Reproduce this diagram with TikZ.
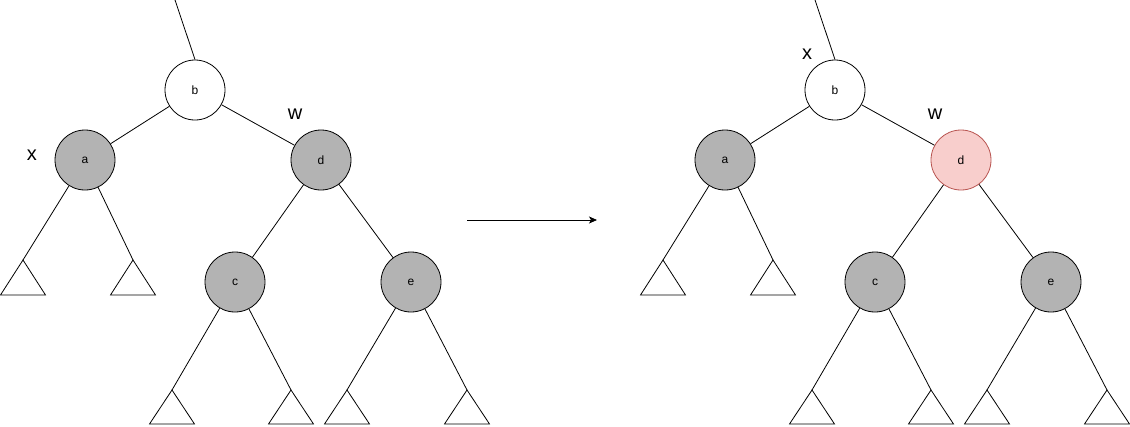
\documentclass[tikz,border=0pt]{standalone}
\usepackage{fontspec}
\setmainfont{Liberation Sans}
\usetikzlibrary{arrows.meta}
\definecolor{nodegray}{RGB}{179,179,179}
\definecolor{pinkfill}{HTML}{F8CECC}
\definecolor{pinkline}{HTML}{B85450}
\begin{document}
\begin{tikzpicture}[x=1pt,y=-1pt,
  vert/.style={circle,draw,line width=0.8pt,minimum size=60pt,inner sep=0pt,font=\fontsize{12}{14}\selectfont},
  blk/.style={vert,fill=nodegray},
  red/.style={vert,fill=pinkfill,draw=pinkline},
  edge/.style={line width=0.8pt},
  tri/.style={draw,line width=0.8pt},
  lbl/.style={font=\fontsize{20}{24}\selectfont,inner sep=0pt}]
\useasboundingbox (0,0) rectangle (1130,426);
\foreach \s/\p/\dst in {0/L/blk,640/R/red}{
  \begin{scope}[xshift=\s pt]
    \node[vert] (b\p) at (195,90) {b};
    \node[blk] (a\p) at (85,160) {a};
    \node[\dst] (d\p) at (321,160) {d};
    \node[blk] (c\p) at (235,282) {c};
    \node[blk] (e\p) at (411,282) {e};
    \coordinate (top\p) at (175,0);
    \coordinate (t1\p) at (23,260);
    \coordinate (t2\p) at (133,260);
    \coordinate (t3\p) at (172,390);
    \coordinate (t4\p) at (291,390);
    \coordinate (t5\p) at (347,390);
    \coordinate (t6\p) at (467,390);
    \draw[edge] (b\p.north) -- (top\p);
    \draw[edge] (b\p) -- (a\p);
    \draw[edge] (b\p) -- (d\p);
    \draw[edge] (d\p) -- (c\p);
    \draw[edge] (d\p) -- (e\p);
    \draw[edge] (a\p) -- (t1\p);
    \draw[edge] (a\p) -- (t2\p);
    \draw[edge] (c\p) -- (t3\p);
    \draw[edge] (c\p) -- (t4\p);
    \draw[edge] (e\p) -- (t5\p);
    \draw[edge] (e\p) -- (t6\p);
    \foreach \t in {t1,t2}{
      \draw[tri] (\t\p) -- ++(-22.5,35) -- ++(45,0) -- cycle;}
    \foreach \t in {t3,t4,t5,t6}{
      \draw[tri] (\t\p) -- ++(-22.5,34) -- ++(45,0) -- cycle;}
  \end{scope}
}
\node[lbl] (xL) at (32,155) {x};
\node[lbl] (wL) at (295,114) {w};
\node[lbl] (xR) at (807,54) {x};
\node[lbl] (wR) at (935,114) {w};
\coordinate (arrS) at (467,220);
\coordinate (arrE) at (597,220);
\draw[line width=0.8pt,-{Stealth[length=8pt,width=7pt,inset=2pt]}] (arrS) -- (arrE);
\end{tikzpicture}
\end{document}
